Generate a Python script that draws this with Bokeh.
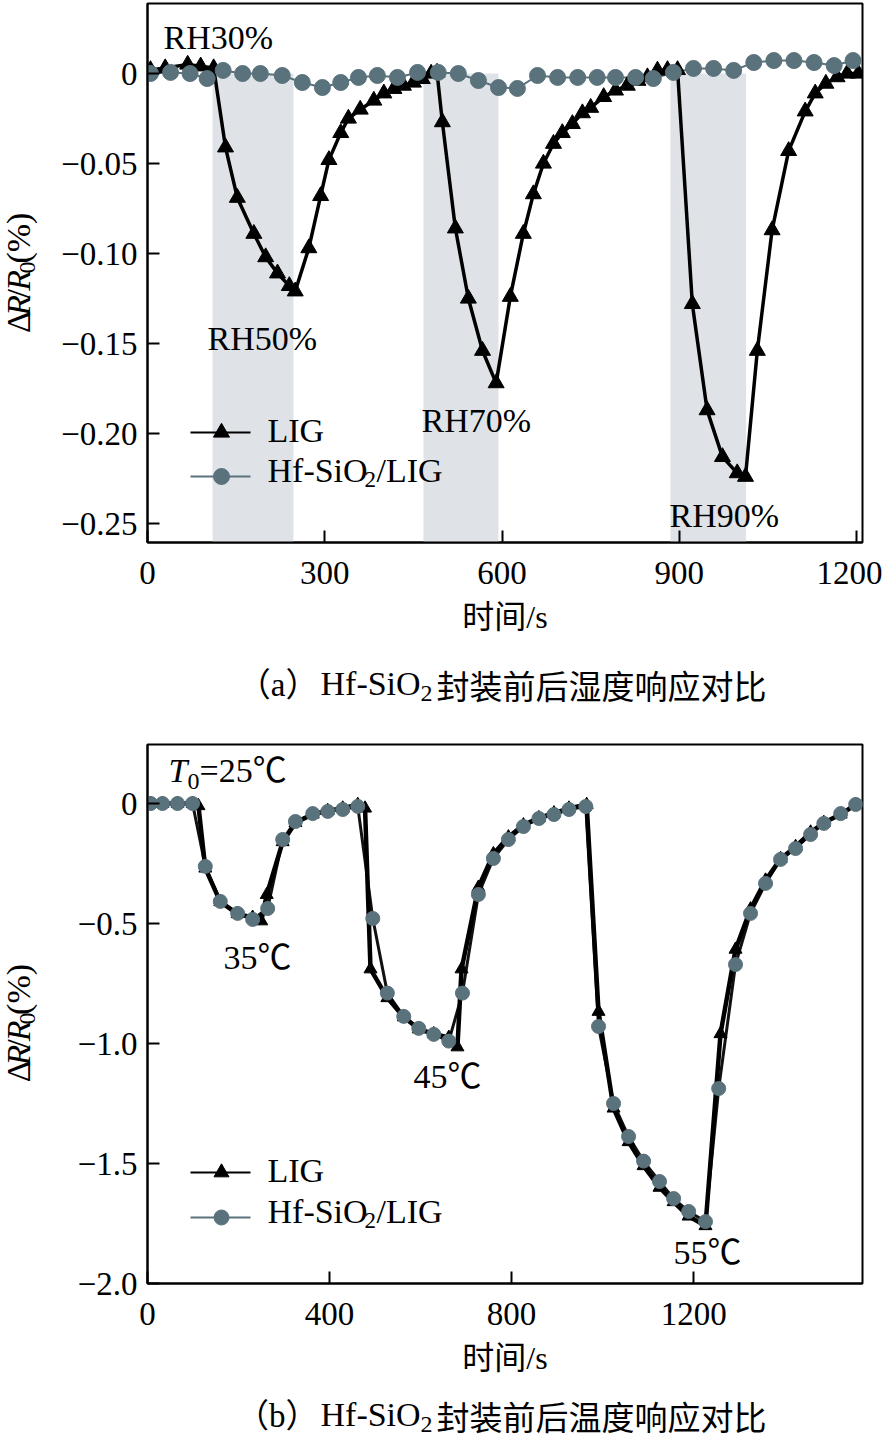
import math
from bokeh.plotting import figure
from bokeh.models import Range1d, FixedTicker, CustomJSTickFormatter
from bokeh.layouts import column, row
from bokeh.core.properties import value
from bokeh.embed import file_html
from bokeh.resources import INLINE

# ---------------- (a) humidity response ----------------
hum_lig_t = [5, 30, 68, 90, 112, 132, 152, 180, 200, 220, 240, 250, 273, 293, 307, 327, 340, 360, 383, 400,
             417, 433, 450, 465, 480, 490, 499, 521, 543, 567, 590, 614, 636, 653, 670, 687, 702, 719, 736, 750,
             772, 792, 812, 830, 846, 863, 880, 897, 922, 947, 973, 998, 1012, 1032, 1057, 1085, 1113, 1130, 1148, 1167,
             1184, 1203]
hum_lig_v = [0.002, 0.003, 0.005, 0.004, 0.003, -0.041, -0.069, -0.089, -0.102, -0.111, -0.118, -0.121, -0.097, -0.068, -0.048,
             -0.033, -0.025, -0.020, -0.015, -0.011, -0.0085, -0.0067, -0.005, -0.003, 0.0, 0.0005, -0.027, -0.086, -0.125, -0.154,
             -0.172, -0.124, -0.089, -0.067, -0.050, -0.039, -0.033, -0.028, -0.022, -0.019, -0.013, -0.0094, -0.0067, -0.004, -0.002,
             0.0017, 0.002, 0.002, -0.128, -0.187, -0.213, -0.222, -0.224, -0.154, -0.087, -0.043, -0.021, -0.011, -0.0056, -0.002,
             0.0, 0.0]
hum_hf_t = [5, 39, 72, 101, 128, 161, 191, 228, 262, 296, 327, 357, 389, 423, 457, 492, 526, 560, 594, 626,
            660, 694, 728, 761, 792, 826, 856, 890, 924, 958, 992, 1026, 1060, 1094, 1128, 1162, 1194]
hum_hf_v = [0.0, 0.0006, 0.0, -0.0028, 0.0017, 0.0, 0.0, -0.0011, -0.005, -0.0078, -0.005, -0.0022, -0.0011, -0.0022, 0.0006,
            0.0006, 0.0, -0.0039, -0.0078, -0.0083, -0.0011, -0.0022, -0.0022, -0.0022, -0.0022, -0.0022, -0.0028, 0.0006, 0.0028,
            0.0028, 0.0017, 0.0061, 0.0072, 0.0072, 0.0061, 0.0044, 0.0072]
rh_start = [110, 467, 885]
rh_end = [247, 594, 1013]
hum_xticks = [0, 300, 600, 900, 1200]
hum_yticks = [0, -0.05, -0.10, -0.15, -0.20, -0.25]

# ---------------- (b) temperature response ----------------
tmp_lig_t = [7, 33, 66, 99, 112, 127, 160, 198, 231, 250, 262, 297, 325, 363, 396, 429, 462, 478, 490, 527,
             563, 596, 629, 662, 681, 690, 727, 760, 793, 826, 860, 893, 926, 965, 991, 1024, 1057, 1090, 1125, 1156,
             1189, 1226, 1259, 1292, 1325, 1358, 1391, 1424, 1457, 1486, 1523, 1556]
tmp_lig_v = [0.0, 0.0, 0.0, 0.0, -0.01, -0.27, -0.41, -0.46, -0.475, -0.49, -0.38, -0.16, -0.08, -0.045, -0.03, -0.02, -0.005,
             -0.02, -0.69, -0.81, -0.89, -0.94, -0.96, -0.975, -1.015, -0.69, -0.35, -0.21, -0.14, -0.09, -0.06, -0.04, -0.02,
             -0.005, -0.867, -1.27, -1.41, -1.51, -1.60, -1.66, -1.72, -1.76, -0.96, -0.608, -0.44, -0.32, -0.23, -0.18, -0.12,
             -0.08, -0.045, -0.005]
tmp_hf_t = [7, 33, 66, 99, 127, 160, 198, 231, 264, 297, 325, 363, 396, 429, 462, 495, 527, 563, 596, 629,
            662, 692, 727, 760, 793, 826, 860, 893, 926, 963, 991, 1024, 1057, 1090, 1125, 1156, 1189, 1226, 1255, 1292,
            1325, 1358, 1391, 1424, 1457, 1486, 1523, 1556]
tmp_hf_v = [0.0, 0.0, 0.0, 0.0, -0.262, -0.408, -0.458, -0.483, -0.4375, -0.15, -0.075, -0.042, -0.033, -0.025, -0.012,
            -0.479, -0.79, -0.887, -0.937, -0.962, -0.99, -0.79, -0.379, -0.229, -0.15, -0.096, -0.0625, -0.046, -0.025,
            -0.0125, -0.929, -1.25, -1.3875, -1.49, -1.575, -1.646, -1.70, -1.742, -1.1875, -0.671, -0.458, -0.333, -0.233,
            -0.1875, -0.129, -0.083, -0.042, -0.004]
tmp_xticks = [0, 400, 800, 1200]
tmp_yticks = [0, -0.5, -1.0, -1.5, -2.0]

SERIF = "Liberation Serif"
CJK = "Noto Sans CJK SC"
MIX = "'Liberation Serif', 'Noto Sans CJK SC'"
GREY = "#5a727c"
BAND = "#dfe3e8"
W_LAB = 40          # width of the y-label strip
W_PLOT = 842        # plot figure width (frame 715 px wide, starting at x=147)
YLAB_SHIFT = 56     # empirical correction for the rotated label pieces


def put(p, x, y, text, size, font=SERIF, style="normal", align="left", angle=0.0):
    p.text(x=[x], y=[y], text=[text], text_font=value(font), text_font_size=value(f"{size}px"),
           text_font_style=value(style), text_align=value(align), text_baseline=value("middle"),
           angle=angle, text_color="black")


def blank(width, height, y0):
    """A bare figure whose data coordinates equal page pixels (y downwards)."""
    b = figure(width=width, height=height, x_range=Range1d(0, width), y_range=Range1d(y0 + height, y0),
               min_border=0, min_border_left=0, min_border_right=0, min_border_top=0, min_border_bottom=0,
               x_axis_location=None, y_axis_location=None, title=None,
               output_backend="svg", toolbar_location=None)
    b.grid.visible = False
    b.outline_line_color = None
    b.background_fill_color = "white"
    b.border_fill_color = "white"
    return b


def base_fig(xr, yr, height, top, bottom, xticks, yticks, ydigits):
    p = figure(width=W_PLOT, height=height, x_range=Range1d(*xr), y_range=Range1d(*yr),
               min_border_left=147 - W_LAB, min_border_right=20, min_border_top=top, min_border_bottom=bottom,
               title=None, output_backend="svg", toolbar_location=None)
    p.xgrid.visible = False
    p.ygrid.visible = False
    p.outline_line_color = "black"
    p.outline_line_width = 2
    p.background_fill_color = "white"
    p.border_fill_color = "white"
    for ax in (p.xaxis[0], p.yaxis[0]):
        ax.axis_line_width = 2
        ax.axis_line_color = "black"
        ax.major_tick_in = 12
        ax.major_tick_out = 0
        ax.minor_tick_in = 0
        ax.minor_tick_out = 0
        ax.major_tick_line_width = 2
        ax.major_tick_line_color = "black"
        ax.major_label_text_font = SERIF
        ax.major_label_text_font_size = "33px"
        ax.major_label_text_color = "black"
    p.xaxis.ticker = FixedTicker(ticks=xticks)
    p.yaxis.ticker = FixedTicker(ticks=yticks)
    p.xaxis.major_label_standoff = 19
    p.yaxis.major_label_standoff = 10
    p.yaxis.formatter = CustomJSTickFormatter(
        code=f'if (tick == 0) {{ return "0"; }} return "\u2212" + Math.abs(tick).toFixed({ydigits});')
    p.xaxis.axis_label = "时间/s"
    p.xaxis.axis_label_text_font = MIX
    p.xaxis.axis_label_text_font_size = "32px"
    p.xaxis.axis_label_text_font_style = "normal"
    p.xaxis.axis_label_text_color = "black"
    p.xaxis.axis_label_standoff = 12
    return p


def ylabel(b, cy):
    pieces = [("Δ", "normal", 34, 18, 0.612), ("R", "italic", 34, 18, 0.611), ("/", "normal", 34, 18, 0.278),
              ("R", "italic", 34, 18, 0.611), ("0", "normal", 24, 27, 0.5), ("(%)", "normal", 34, 18, 1.5)]
    total = sum(s * w for _, _, s, _, w in pieces)
    y = cy + total / 2 + YLAB_SHIFT
    for txt, st, s, cx, w in pieces:
        put(b, cx, y, txt, s, style=st, angle=math.pi / 2)
        y -= s * w


def legend(p, tx, ty, y1, y2, msize_t, msize_c):
    p.line([tx(190), tx(250)], [ty(y1), ty(y1)], line_color="black", line_width=2)
    p.scatter([tx(221)], [ty(y1)], marker="triangle", size=msize_t, fill_color="black", line_color="black")
    p.line([tx(190), tx(250)], [ty(y2), ty(y2)], line_color=GREY, line_width=2)
    p.scatter([tx(221)], [ty(y2)], marker="circle", size=msize_c, fill_color=GREY, line_color=GREY)
    put(p, tx(267), ty(y1 - 2), "LIG", 34)
    put(p, tx(267), ty(y2 - 6), "Hf-SiO", 34)
    put(p, tx(364), ty(y2 + 3), "2", 23)
    put(p, tx(376), ty(y2 - 6), "/LIG", 34)


def caption(b, cy, letter, word):
    put(b, 318, cy, f"（{letter}）", 33, font=MIX, align="right")
    put(b, 320, cy - 1, "Hf-SiO", 34)
    put(b, 420, cy + 9, "2", 24)
    put(b, 436, cy, word, 33, font=CJK)


# ---------- figure (a) ----------
X1 = 715 / 1210
tx1 = lambda px: (px - 147) / X1
ty1 = lambda py: -(py - 73) / 1800
H1 = 650
p1 = base_fig((0, 1210), (-(542 - 73) / 1800, -(542 - 73) / 1800 + 539 / 1800), H1, 3, H1 - 3 - 539,
              hum_xticks, hum_yticks, 2)
p1.quad(left=rh_start, right=rh_end, top=0, bottom=-0.3, fill_color=BAND, line_color=None)
p1.line(hum_hf_t, hum_hf_v, line_color=GREY, line_width=2)
p1.line(hum_lig_t, hum_lig_v, line_color="black", line_width=3.5)
p1.scatter(hum_lig_t, hum_lig_v, marker="triangle", size=16, fill_color="black", line_color="black")
p1.scatter(hum_hf_t, hum_hf_v, marker="circle", size=16, fill_color=GREY, line_color=GREY)
put(p1, tx1(163), ty1(37), "RH30%", 34)
put(p1, tx1(207), ty1(338), "RH50%", 34)
put(p1, tx1(421), ty1(420), "RH70%", 34)
put(p1, tx1(669), ty1(515), "RH90%", 34)
legend(p1, tx1, ty1, 432, 476, 16, 16)
yl1 = blank(W_LAB, H1, 0)
ylabel(yl1, 274)
cap1 = blank(W_LAB + W_PLOT, 70, H1)
caption(cap1, 684, "a", "封装前后湿度响应对比")

# ---------- figure (b) ----------
X2 = 715 / 1571
tx2 = lambda px: (px - 147) / X2
ty2 = lambda py: -(py - 803) / 240
Y2 = H1 + 70
H2 = 671
p2 = base_fig((0, 1571), (-2.0, -2.0 + 539 / 240), H2, 744 - Y2, H2 - (744 - Y2) - 539,
              tmp_xticks, tmp_yticks, 1)
p2.line(tmp_hf_t, tmp_hf_v, line_color="#111111", line_width=3)
p2.line(tmp_lig_t, tmp_lig_v, line_color="black", line_width=4.5)
p2.scatter(tmp_lig_t, tmp_lig_v, marker="triangle", size=13, fill_color="black", line_color="black")
p2.scatter(tmp_hf_t, tmp_hf_v, marker="circle", size=14, fill_color=GREY, line_color=GREY)
put(p2, tx2(168), ty2(770), "T", 34, style="italic")
put(p2, tx2(187), ty2(781), "0", 24)
put(p2, tx2(199), ty2(770), "=25℃", 34, font=MIX)
put(p2, tx2(223), ty2(957), "35℃", 34, font=MIX)
put(p2, tx2(413), ty2(1076), "45℃", 34, font=MIX)
put(p2, tx2(673), ty2(1252), "55℃", 34, font=MIX)
legend(p2, tx2, ty2, 1172, 1217, 15, 15)
yl2 = blank(W_LAB, H2, Y2)
ylabel(yl2, 1017)
Y3 = Y2 + H2
cap2 = blank(W_LAB + W_PLOT, 1440 - Y3, Y3)
caption(cap2, 1415, "b", "封装前后温度响应对比")

layout = column(row(yl1, p1, spacing=0), cap1, row(yl2, p2, spacing=0), cap2, spacing=0)
open("out.html", "w").write(file_html(layout, INLINE))
